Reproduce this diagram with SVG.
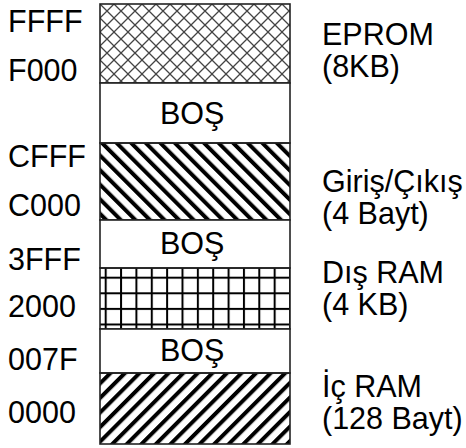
<svg xmlns="http://www.w3.org/2000/svg" width="466" height="448" viewBox="0 0 466 448">
<style>
text{font-family:"Liberation Sans",Arial,sans-serif;font-size:30.5px;fill:#000}
.blk{stroke:#222;stroke-width:1.6}
.empty{fill:#fff}
</style>
<defs>
<pattern id="cross" patternUnits="userSpaceOnUse" x="100" y="4" width="14" height="14">
<path d="M0,0L14,14M14,0L0,14" stroke="#444" stroke-width="1.3" fill="none"/>
</pattern>
<pattern id="back" patternUnits="userSpaceOnUse" width="10.3" height="20" patternTransform="rotate(-45)">
<rect x="0" y="0" width="4" height="20" fill="#000"/>
</pattern>
<pattern id="fwd" patternUnits="userSpaceOnUse" width="10.3" height="20" patternTransform="rotate(45)">
<rect x="0" y="0" width="4" height="20" fill="#000"/>
</pattern>
<pattern id="grid" patternUnits="userSpaceOnUse" x="104.7" y="276.7" width="15.36" height="15.6">
<rect x="0" y="0" width="2" height="15.6" fill="#000"/>
<rect x="0" y="0" width="15.36" height="2" fill="#000"/>
</pattern>
</defs>
<g id="eprom"><rect class="blk" x="100" y="4" width="190" height="79" fill="url(#cross)"/></g>
<g id="bos1"><rect class="blk empty" x="100" y="83" width="190" height="60"/><text x="160" y="124">BOŞ</text></g>
<g id="io"><rect class="blk" x="100" y="143" width="190" height="77" fill="url(#back)"/></g>
<g id="bos2"><rect class="blk empty" x="100" y="220" width="190" height="48"/><text x="160" y="254">BOŞ</text></g>
<g id="disram"><rect class="blk" x="100" y="268" width="190" height="61" fill="url(#grid)"/></g>
<g id="bos3"><rect class="blk empty" x="100" y="329" width="190" height="44"/><text x="160" y="361">BOŞ</text></g>
<g id="icram"><rect class="blk" x="100" y="373" width="190" height="71" fill="url(#fwd)"/></g>
<g id="addresses">
<text x="8" y="32">FFFF</text>
<text x="8" y="81">F000</text>
<text x="8" y="167">CFFF</text>
<text x="8" y="216">C000</text>
<text x="8" y="270">3FFF</text>
<text x="8" y="317">2000</text>
<text x="8" y="370">007F</text>
<text x="8" y="423">0000</text>
</g>
<g id="labels">
<text x="322" y="45">EPROM</text>
<text x="322" y="77">(8KB)</text>
<text x="322" y="192">Giriş/Çıkış</text>
<text x="322" y="224">(4 Bayt)</text>
<text x="322" y="283">Dış RAM</text>
<text x="322" y="315">(4 KB)</text>
<text x="322" y="397">İç RAM</text>
<text x="322" y="429">(128 Bayt)</text>
</g>
<g id="connectors"/>
</svg>
